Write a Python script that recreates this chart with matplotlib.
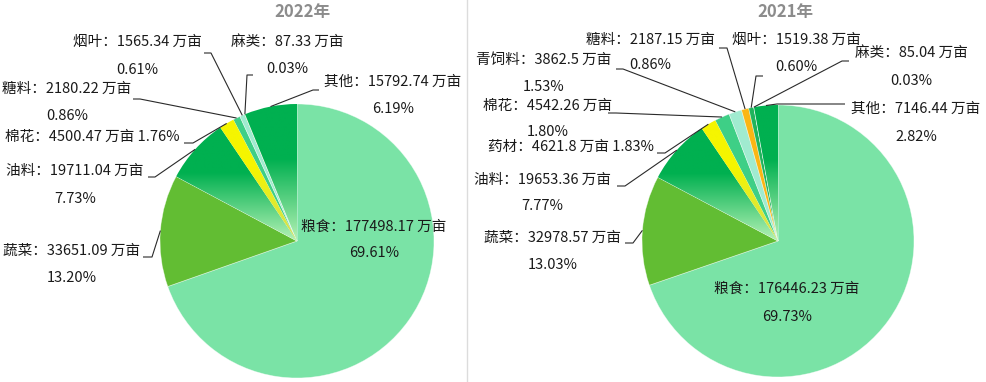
import numpy as np
import matplotlib
matplotlib.use('Agg')
import matplotlib.pyplot as plt
from matplotlib.colors import to_rgb

plt.rcParams['font.family'] = ['Noto Sans CJK SC', 'DejaVu Sans']

W, H = 987, 382

# ---------------- data ----------------
titles = ['2022年', '2021年']

names_2022 = ['粮食', '蔬菜', '油料', '棉花', '糖料', '烟叶', '麻类', '其他']
values_2022 = [177498.17, 33651.09, 19711.04, 4500.47, 2180.22, 1565.34, 87.33, 15792.74]
pcts_2022 = [69.61, 13.20, 7.73, 1.76, 0.86, 0.61, 0.03, 6.19]

names_2021 = ['粮食', '蔬菜', '油料', '药材', '棉花', '青饲料', '糖料', '烟叶', '麻类', '其他']
values_2021 = [176446.23, 32978.57, 19653.36, 4621.8, 4542.26, 3862.5, 2187.15, 1519.38, 85.04, 7146.44]
pcts_2021 = [69.73, 13.03, 7.77, 1.83, 1.80, 1.53, 0.86, 0.60, 0.03, 2.82]

unit = '万亩'

# ---------------- style / layout ----------------
fills_2022 = ['#7ae3a6', '#62bd33', 'g_green', 'g_yellow', '#3ecf86', '#a0ebd0', '#fbb614', 'g_green']
fills_2021 = ['#7ae3a6', '#62bd33', 'g_green', 'g_yellow', '#3ecf86', '#a0ebd0', '#fbb614', '#20b45c', '#a8e6e0', 'g_green']

# label layout in pixel coords (y down): (center x, y line1, y line2 or None, single-line?)
lab_2022 = [
    (374, 227, 253, False),
    (72, 251, 278, False),
    (75, 171, 199, False),
    (92, 137, None, True),
    (67, 89, 116, False),
    (137, 42, 70, False),
    (287, 42, 69, False),
    (393, 82, 109, False),
]
lead_2022 = [
    None,
    [(152, 257), (143, 257)],
    [(155, 177), (148, 177)],
    [(193, 143), (184, 143)],
    [(140, 99), (133, 99)],
    [(211, 53), (204, 53)],
    [(247, 75), (253, 75)],
    [(313, 90), (319, 90)],
]
lab_2021 = [
    (787, 289, 317, False),
    (553, 238, 265, False),
    (542, 180, 206, False),
    (571, 147, None, True),
    (548, 106, 132, False),
    (544, 60, 87, False),
    (650, 40, 65, False),
    (796, 40, 67, False),
    (911, 53, 81, False),
    (916, 109, 137, False),
]
lead_2021 = [
    None,
    [(633, 243), (625, 243)],
    [(625, 186), (617, 186)],
    [(665, 153), (657, 153)],
    [(616, 113), (608, 113)],
    [(623, 69), (616, 69)],
    [(727, 48), (719, 48)],
    [(756, 76), (763, 76)],
    [(842, 61), (849, 61)],
    [(777, 104), (845, 104)],
]

pies = [
    dict(title=titles[0], names=names_2022, values=values_2022, pcts=pcts_2022,
         fills=fills_2022, labs=lab_2022, leads=lead_2022, cx=297, cy=241, R=137, tx=302),
    dict(title=titles[1], names=names_2021, values=values_2021, pcts=pcts_2021,
         fills=fills_2021, labs=lab_2021, leads=lead_2021, cx=778, cy=241, R=136, tx=785),
]


def fmt_val(v):
    return f"{v:.2f}".rstrip('0').rstrip('.')


fig = plt.figure(figsize=(W / 100, H / 100), dpi=100)
ax = fig.add_axes([0, 0, 1, 1])
ax.set_axis_off()


def gradient_image(ax, wedge, kind):
    x0, y0, x1, y1 = wedge.get_path().get_extents(wedge.get_patch_transform()).extents
    n = 200
    t = np.linspace(0, 1, n)[:, None] * np.ones((1, 4))
    if kind == 'g_green':
        dark, light = np.array(to_rgb('#00b050')), np.array(to_rgb('#b5f2b5'))
        s = np.clip(t[:, :1] / 0.6, 0, 1)
    else:
        dark, light = np.array(to_rgb('#f5f500')), np.array(to_rgb('#cfe05a'))
        s = np.clip(t[:, :1] / 0.6, 0, 1)
    col = light + (dark - light) * s  # n x 3
    img = np.repeat(col[:, None, :], 4, axis=1)
    im = ax.imshow(img, extent=(x0, x1, y0, y1), origin='lower', aspect='auto',
                   interpolation='bilinear', zorder=2)
    im.set_clip_path(wedge)


for p in pies:
    cols = [('#ffffff' if f.startswith('g_') else f) for f in p['fills']]
    wedges, _ = ax.pie(p['values'], colors=cols, startangle=90, counterclock=False,
                       center=(p['cx'], H - p['cy']), radius=p['R'],
                       wedgeprops=dict(edgecolor=(1, 1, 1, 0.5), linewidth=0.5))
    for w, f in zip(wedges, p['fills']):
        if f.startswith('g_'):
            gradient_image(ax, w, f)
    # labels
    for i, (w, nm, v, pc) in enumerate(zip(wedges, p['names'], p['values'], p['pcts'])):
        cx, y1, y2, single = p['labs'][i]
        line1 = f"{nm}：{fmt_val(v)} {unit}"
        if single:
            line1 = f"{line1} {pc:.2f}%"
        ax.text(cx, H - y1, line1, ha='center', va='center', fontsize=10.5,
                color='#1a1a1a', zorder=5)
        if y2 is not None:
            ax.text(cx, H - y2, f"{pc:.2f}%", ha='center', va='center', fontsize=10.5,
                    color='#1a1a1a', zorder=5)
        lead = p['leads'][i]
        if lead is not None:
            ang = np.deg2rad((w.theta1 + w.theta2) / 2)
            rx = p['cx'] + p['R'] * np.cos(ang)
            ry = (H - p['cy']) + p['R'] * np.sin(ang)
            xs = [rx] + [q[0] for q in lead]
            ys = [ry] + [H - q[1] for q in lead]
            ax.plot(xs, ys, color='#2a2a2a', lw=0.8, zorder=4, solid_capstyle='butt')
    ax.text(p['tx'], H - 12, p['title'], ha='center', va='center', fontsize=12,
            fontweight='bold', color='#8c8c8c', zorder=5)

ax.plot([467, 467], [0, H], color='#dcdcdc', lw=1, zorder=1)

ax.set_xlim(0, W)
ax.set_ylim(0, H)
ax.set_aspect('auto')
fig.savefig('out.png', dpi=100)
